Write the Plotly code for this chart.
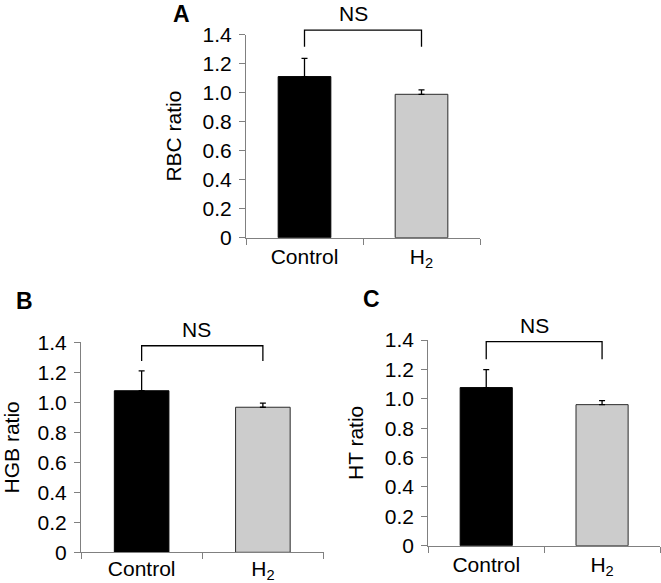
import plotly.graph_objects as go

# ---- data ----
categories = ["Control", "H<sub>2</sub>"]
panel_letters = ["A", "B", "C"]
y_titles = ["RBC ratio", "HGB ratio", "HT ratio"]
means = [[1.11, 0.988], [1.077, 0.967], [1.076, 0.96]]
errors = [[0.125, 0.03], [0.132, 0.028], [0.122, 0.027]]
bracket_top = [1.43, 1.377, 1.389]
bracket_end = [1.315, 1.275, 1.269]
sig_text = ["NS", "NS", "NS"]
tick_vals = [0, 0.2, 0.4, 0.6, 0.8, 1.0, 1.2, 1.4]
tick_text = ["0", "0.2", "0.4", "0.6", "0.8", "1.0", "1.2", "1.4"]
bar_colors = ["#000000", "#cccccc"]
bar_lines = ["#000000", "#2a2a2a"]

# ---- layout geometry (pixels) ----
W, H = 661, 583
# x-left, x-right, y(0), y(1.4)
geom = [
    (246.0, 480.0, 237.7, 34.5),
    (81.0, 323.5, 552.3, 342.3),
    (428.3, 660.0, 545.7, 340.0),
]
x_label_shift = [0, -3, 0]
y_title_standoff = [15, 17, 15]
letter_pos = [(181.5, 14.0), (24.7, 300.5), (371.0, 299.0)]
FONT = "Liberation Sans, Arial, sans-serif"
AX_COL = "#808080"
YMAX = 1.4

fig = go.Figure()
layout = dict(
    width=W, height=H,
    margin=dict(l=0, r=0, t=0, b=0, autoexpand=False),
    paper_bgcolor="white", plot_bgcolor="rgba(0,0,0,0)",
    showlegend=False,
    font=dict(family=FONT, size=21, color="black"),
    annotations=[],
)

for i in range(3):
    xl, xr, y0, y14 = geom[i]
    xd = [xl / W, xr / W]
    yd = [1 - y0 / H, 1 - y14 / H]
    n = i + 1
    ov = i + 4
    xa = "x" if n == 1 else f"x{n}"
    ya = "y" if n == 1 else f"y{n}"
    xo, yo = f"x{ov}", f"y{ov}"

    fig.add_trace(go.Bar(
        x=categories, y=means[i],
        marker=dict(color=bar_colors, line=dict(color=bar_lines, width=1)),
        width=0.45,
        error_y=dict(type="data", symmetric=False, array=errors[i],
                     arrayminus=[0, 0], color="#000000", thickness=1.3, width=3),
        xaxis=xa, yaxis=ya, cliponaxis=False,
    ))

    layout[f"xaxis{'' if n == 1 else n}"] = dict(
        domain=xd, anchor=ya, type="category", range=[-0.5, 1.5],
        showline=True, linecolor=AX_COL, linewidth=1.2,
        ticks="outside", tickson="boundaries", ticklen=6, tickcolor=AX_COL,
        showgrid=False, zeroline=False, automargin=False,
        tickfont=dict(size=21, family=FONT, color="black"),
        ticklabelstandoff=x_label_shift[i],
        fixedrange=True,
    )
    layout[f"yaxis{'' if n == 1 else n}"] = dict(
        domain=yd, anchor=xa, range=[0, YMAX],
        showline=True, linecolor=AX_COL, linewidth=1.2,
        ticks="outside", ticklen=6, tickcolor=AX_COL,
        tickvals=tick_vals, ticktext=tick_text,
        showgrid=False, zeroline=False, automargin=False,
        tickfont=dict(size=21, family=FONT, color="black"),
        ticklabelstandoff=3,
        title=dict(text=y_titles[i], font=dict(size=21, family=FONT),
                   standoff=y_title_standoff[i]),
        fixedrange=True,
    )

    # overlay axes for the significance bracket (same scale, taller domain)
    top_frac = min(1.0, yd[1] + 0.07)
    yo_max = YMAX * (top_frac - yd[0]) / (yd[1] - yd[0])
    layout[f"xaxis{ov}"] = dict(domain=xd, anchor=yo, range=[-0.5, 1.5],
                                visible=False, fixedrange=True, automargin=False)
    layout[f"yaxis{ov}"] = dict(domain=[yd[0], top_frac], anchor=xo,
                                range=[0, yo_max], visible=False, fixedrange=True,
                                automargin=False)
    fig.add_trace(go.Scatter(
        x=[0, 0, 1, 1],
        y=[bracket_end[i], bracket_top[i], bracket_top[i], bracket_end[i]],
        mode="lines", line=dict(color="#000000", width=1.3),
        xaxis=xo, yaxis=yo, hoverinfo="skip",
    ))
    layout["annotations"].append(dict(
        x=0.42 if i != 1 else 0.45, y=bracket_top[i], xref=xo, yref=yo,
        text=sig_text[i], showarrow=False, yanchor="bottom", yshift=3,
        font=dict(size=21, family=FONT, color="black"),
    ))
    lx, ly = letter_pos[i]
    layout["annotations"].append(dict(
        x=lx / W, y=1 - ly / H, xref="paper", yref="paper",
        text=f"<b>{panel_letters[i]}</b>", showarrow=False,
        xanchor="center", yanchor="middle",
        font=dict(size=23, family=FONT, color="black"),
    ))

fig.update_layout(**layout)
fig.write_html(
    "out.html",
    config={"displayModeBar": False},
    post_script="document.body.style.margin='0px';document.body.style.padding='0px';",
)
